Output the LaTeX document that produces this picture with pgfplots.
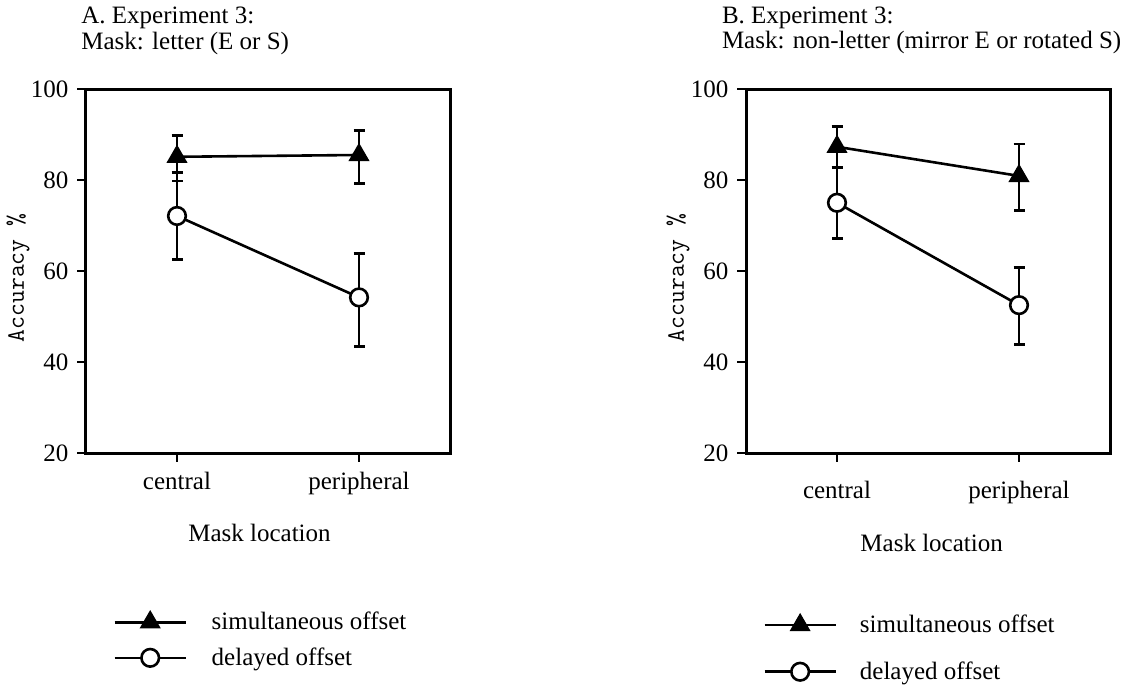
\documentclass[border=0pt]{standalone}
\usepackage{fontspec}
\setmainfont{Liberation Serif}
\usepackage{pgfplots}
\pgfplotsset{compat=1.18}
\usepackage{pgfplotstable}

% Panel A
\pgfplotstableread{
x y ep em
0 85.1 4.6 5.3
1 85.5 5.3 6.2
}\simA
\pgfplotstableread{
x y ep em
0 72.1 9.5 9.5
1 54.2 9.7 10.8
}\delA
% Panel B
\pgfplotstableread{
x y ep em
0 87.3 4.4 4.5
1 80.9 7.0 7.6
}\simB
\pgfplotstableread{
x y ep em
0 75.0 7.8 7.8
1 52.5 8.2 8.6
}\delB

\newcommand{\txt}{\fontsize{12.5}{15}\selectfont}

\pgfplotsset{
  panel/.style={
    scale only axis, width=182pt, height=182pt,
    xmin=-0.5, xmax=1.5, ymin=20, ymax=100,
    xtick={0,1}, xticklabels={central,peripheral},
    ytick={20,40,60,80,100},
    tick align=outside, tick pos=left,
    axis line style={line width=1.5pt},
    major tick length=4.3pt,
    every tick/.style={black, line width=1.2pt},
    tick label style={font=\txt},
    /pgf/number format/assume math mode=true,
    yticklabel style={anchor=east, xshift=-1pt},
    xticklabel style={anchor=base},
    xlabel={Mask location},
    xlabel style={font=\txt, anchor=base},
    ylabel={Accuracy \%},
    ylabel style={font=\ttfamily\fontsize{12.5}{14}\selectfont, at={(axis description cs:-0.187,0.481)}, anchor=center},
    legend style={font=\txt, draw=none, fill=none, inner sep=0pt, anchor=north west,
      cells={anchor=west}},
    legend image code/.code={\draw[mark repeat=2,mark phase=2] plot coordinates {(0pt,0pt) (17.75pt,0pt) (35.5pt,0pt)};},
  },
  simstyle/.style={black, line width=1.3pt, mark=triangle*, mark size=5.5pt,
    mark options={solid, fill=black, line width=0.6pt},
    error bars/.cd, y dir=both, y explicit,
    error bar style={line width=1.4pt, black},
    error mark options={rotate=90, line width=1.4pt, mark size=2.75pt, black}},
  delstyle/.style={black, line width=1.3pt, mark=*, mark size=4.4pt,
    mark options={solid, fill=white, draw=black, line width=1.3pt},
    error bars/.cd, y dir=both, y explicit,
    error bar style={line width=1.4pt, black},
    error mark options={rotate=90, line width=1.4pt, mark size=2.75pt, black}},
}

\begin{document}
\begin{tikzpicture}
\path[use as bounding box] (0,0) rectangle (566.5pt,-344pt);

% titles
\node[anchor=base west, inner sep=0pt, font=\txt] at (40.5pt,-12pt) {A. Experiment 3:};
\node[anchor=base west, inner sep=0pt, font=\txt] at (40.5pt,-24.7pt) {Mask: letter (E or S)};
\node[anchor=base west, inner sep=0pt, font=\txt] at (360.8pt,-12pt) {B. Experiment 3:};
\node[anchor=base west, inner sep=0pt, font=\txt] at (360.8pt,-24.5pt) {Mask: non-letter (mirror E or rotated S)};

\begin{axis}[panel, at={(43pt,-226.5pt)}, anchor=south west,
  xticklabel style={yshift=-14pt},
  xlabel style={at={(axis description cs:0.4766,-0.2418)}},
  legend style={at={(axis description cs:0.0742,-0.4245)}, row sep=3.5pt, column sep=10.35pt}]
\addplot[simstyle] table[x=x, y=y, y error plus=ep, y error minus=em] {\simA};
\addlegendentry{simultaneous offset}
\addplot[delstyle] table[x=x, y=y, y error plus=ep, y error minus=em] {\delA};
\addlegendentry{delayed offset}
\end{axis}

\begin{axis}[panel, at={(373pt,-226.5pt)}, anchor=south west,
  xticklabel style={yshift=-18.5pt},
  xlabel style={at={(axis description cs:0.510,-0.271)}},
  legend style={at={(axis description cs:0.0465,-0.4325)}, row sep=9pt, column sep=9.5pt}]
\addplot[simstyle] table[x=x, y=y, y error plus=ep, y error minus=em] {\simB};
\addlegendentry{simultaneous offset}
\addplot[delstyle] table[x=x, y=y, y error plus=ep, y error minus=em] {\delB};
\addlegendentry{delayed offset}
\end{axis}
\end{tikzpicture}
\end{document}
